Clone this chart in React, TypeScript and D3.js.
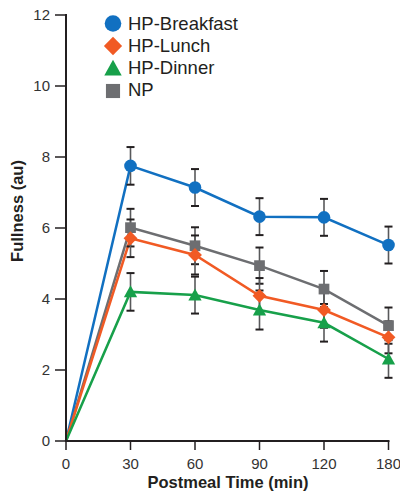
import React from "react";
import * as d3 from "d3";

const timeLabels = ["0", "30", "60", "90", "120", "180"];
const seriesNames = ["HP-Breakfast", "HP-Lunch", "HP-Dinner", "NP"];
const breakfastValues = [0, 7.75, 7.14, 6.32, 6.3, 5.52];
const breakfastErrors = [0, 0.53, 0.52, 0.52, 0.52, 0.52];
const lunchValues = [0, 5.71, 5.24, 4.09, 3.69, 2.92];
const lunchErrors = [0, 0.53, 0.55, 0.5, 0.5, 0.45];
const dinnerValues = [0, 4.2, 4.11, 3.69, 3.33, 2.31];
const dinnerErrors = [0, 0.53, 0.52, 0.55, 0.53, 0.53];
const npValues = [0, 6.01, 5.5, 4.94, 4.28, 3.25];
const npErrors = [0, 0.53, 0.52, 0.51, 0.51, 0.51];
const yTicks = [0, 2, 4, 6, 8, 10, 12];

const colors = ["#1170c1", "#f15a24", "#17a04a", "#6d6e71"];
const shapes = ["circle", "diamond", "triangle", "square"];

const FONT = "'Liberation Sans', Arial, Helvetica, sans-serif";

function Marker({ shape, x, y, color, s }: { shape: string; x: number; y: number; color: string; s: number }) {
  if (shape === "circle") return <circle cx={x} cy={y} r={s} fill={color} />;
  if (shape === "diamond") {
    const d = s * 1.1;
    return <path d={`M${x},${y - d}L${x + d},${y}L${x},${y + d}L${x - d},${y}Z`} fill={color} />;
  }
  if (shape === "triangle") {
    const h = s * 1.9;
    const w = s * 1.05;
    return <path d={`M${x},${y - h * 0.55}L${x + w},${y + h * 0.45}L${x - w},${y + h * 0.45}Z`} fill={color} />;
  }
  const q = s * 0.85;
  return <rect x={x - q} y={y - q} width={q * 2} height={q * 2} fill={color} />;
}

export default function App() {
  const width = 400;
  const height = 496;
  const x = d3.scalePoint<string>().domain(timeLabels).range([66, 388.5]);
  const y = d3.scaleLinear().domain([0, 12]).range([441, 15]);

  const series = [
    { name: seriesNames[0], values: breakfastValues, errors: breakfastErrors },
    { name: seriesNames[1], values: lunchValues, errors: lunchErrors },
    { name: seriesNames[2], values: dinnerValues, errors: dinnerErrors },
    { name: seriesNames[3], values: npValues, errors: npErrors },
  ];

  const line = d3
    .line<number>()
    .x((_, i) => x(timeLabels[i]) as number)
    .y((d) => y(d));

  const drawOrder = [0, 3, 1, 2];
  const axisColor = "#231f20";

  return (
    <svg width={width} height={height} style={{ position: "absolute", left: 0, top: 0 }}>
      <rect width={width} height={height} fill="#fff" />
      {/* lines */}
      {drawOrder.map((si) => (
        <path key={"l" + si} d={line(series[si].values) || ""} fill="none" stroke={colors[si]} strokeWidth={2.5} />
      ))}
      {/* error bars */}
      {drawOrder.map((si) =>
        series[si].values.map((v, i) => {
          if (i === 0) return null;
          const cx = x(timeLabels[i]) as number;
          const e = series[si].errors[i];
          const y1 = y(v + e);
          const y2 = y(v - e);
          return (
            <g key={`e${si}-${i}`}>
              <line x1={cx} x2={cx} y1={y1} y2={y2} stroke="#58595b" strokeWidth={1.6} />
              <line x1={cx - 4} x2={cx + 4} y1={y1} y2={y1} stroke="#231f20" strokeWidth={2} />
              <line x1={cx - 4} x2={cx + 4} y1={y2} y2={y2} stroke="#231f20" strokeWidth={2} />
            </g>
          );
        })
      )}
      {/* markers */}
      {drawOrder.map((si) =>
        series[si].values.map((v, i) =>
          i === 0 ? null : (
            <Marker key={`m${si}-${i}`} shape={shapes[si]} x={x(timeLabels[i]) as number} y={y(v)} color={colors[si]} s={6.3} />
          )
        )
      )}
      {/* y axis */}
      <line x1={66} x2={66} y1={14} y2={442} stroke={axisColor} strokeWidth={2} />
      {yTicks.map((t) => (
        <g key={"yt" + t}>
          <line x1={55} x2={66} y1={y(t)} y2={y(t)} stroke={axisColor} strokeWidth={1.5} />
          <text x={50} y={y(t) + 5} textAnchor="end" fontSize={15} fontFamily={FONT} fill="#333">
            {t}
          </text>
        </g>
      ))}
      {/* x axis */}
      <line x1={65} x2={389.5} y1={441} y2={441} stroke={axisColor} strokeWidth={2} />
      {timeLabels.map((t) => (
        <g key={"xt" + t}>
          <line x1={x(t) as number} x2={x(t) as number} y1={441} y2={450} stroke={axisColor} strokeWidth={1.5} />
          <text x={x(t) as number} y={469} textAnchor="middle" fontSize={15} fontFamily={FONT} fill="#333">
            {t}
          </text>
        </g>
      ))}
      <text x={228} y={488} textAnchor="middle" fontSize={16.5} fontWeight="bold" fontFamily={FONT} fill="#231f20">
        Postmeal Time (min)
      </text>
      <text
        transform="translate(23,211) rotate(-90)"
        textAnchor="middle"
        fontSize={16.5}
        fontWeight="bold"
        fontFamily={FONT}
        fill="#231f20"
      >
        Fullness (au)
      </text>
      {/* legend */}
      {seriesNames.map((n, i) => (
        <g key={"lg" + n}>
          <Marker shape={shapes[i]} x={113} y={23.5 + i * 22.5} color={colors[i]} s={8.3} />
          <text x={128} y={30 + i * 22} fontSize={18.5} fontFamily={FONT} fill="#231f20">
            {n}
          </text>
        </g>
      ))}
    </svg>
  );
}
